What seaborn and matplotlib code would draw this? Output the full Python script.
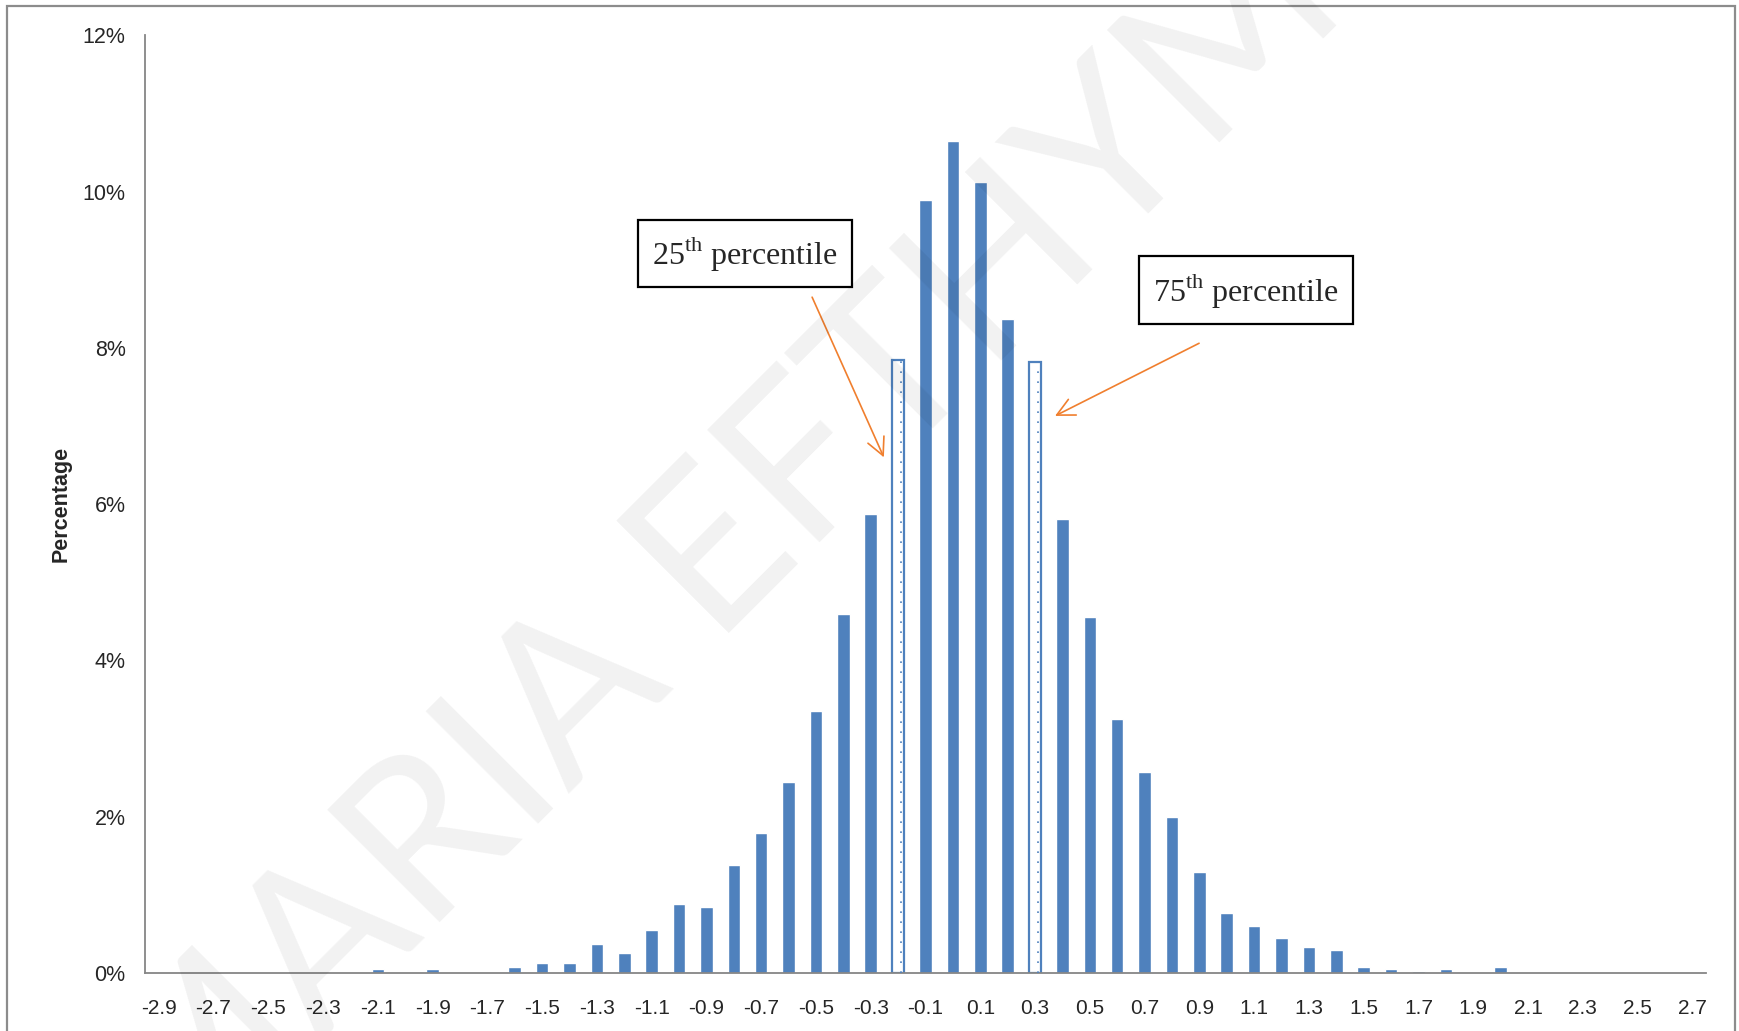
import matplotlib
matplotlib.use('Agg')
import matplotlib.pyplot as plt
import seaborn as sns
import pandas as pd
from matplotlib.patches import Rectangle

bins = ['-2.9', '-2.8', '-2.7', '-2.6', '-2.5', '-2.4', '-2.3', '-2.2', '-2.1', '-2.0',
        '-1.9', '-1.8', '-1.7', '-1.6', '-1.5', '-1.4', '-1.3', '-1.2', '-1.1', '-1.0',
        '-0.9', '-0.8', '-0.7', '-0.6', '-0.5', '-0.4', '-0.3', '-0.2', '-0.1', '0.0',
        '0.1', '0.2', '0.3', '0.4', '0.5', '0.6', '0.7', '0.8', '0.9', '1.0',
        '1.1', '1.2', '1.3', '1.4', '1.5', '1.6', '1.7', '1.8', '1.9', '2.0',
        '2.1', '2.2', '2.3', '2.4', '2.5', '2.6', '2.7']
pct = [0.01, 0.0, 0.0, 0.0, 0.0, 0.0, 0.0, 0.0, 0.05, 0.0,
       0.05, 0.01, 0.01, 0.08, 0.13, 0.13, 0.37, 0.26, 0.55, 0.88,
       0.84, 1.38, 1.79, 2.45, 3.35, 4.59, 5.88, 7.84, 9.9, 10.65,
       10.12, 8.37, 7.82, 5.81, 4.55, 3.25, 2.57, 2.0, 1.29, 0.77,
       0.6, 0.45, 0.33, 0.3, 0.08, 0.05, 0.03, 0.05, 0.0, 0.08,
       0.0, 0.01, 0.01, 0.0, 0.0, 0.0, 0.01]
quartile_bins = ['-0.2', '0.3']
tick_labels = bins[::2]

blue = '#4f81bd'
orange = '#f07f2e'

sns.set_style('white')
plt.rcParams['font.family'] = ['Liberation Sans', 'DejaVu Sans']
plt.rcParams['mathtext.fontset'] = 'custom'
plt.rcParams['mathtext.rm'] = 'Liberation Serif'

df = pd.DataFrame({'bin': bins, 'pct': pct})

fig = plt.figure(figsize=(17.39, 10.31), dpi=100)
ax = fig.add_axes([0.0834, 0.0563, 0.8976, 0.9093])

sns.barplot(data=df, x='bin', y='pct', order=bins, color=blue, width=0.46,
            saturation=1, ax=ax)

# quartile bins drawn hollow with a dotted inner line
for p, b in zip(ax.patches, bins):
    if b in quartile_bins:
        p.set_facecolor('white')
        p.set_edgecolor(blue)
        p.set_linewidth(1.6)
        xd = p.get_x() + p.get_width() * 0.72
        ax.plot([xd, xd], [0, p.get_height()], color=blue, lw=1.2,
                ls=(0, (1, 5)), zorder=3)

ax.set_xlim(-0.5, len(bins) - 0.5)
ax.set_ylim(0, 12)
ax.set_yticks(range(0, 13, 2))
ax.set_yticklabels([f'{v}%' for v in range(0, 13, 2)], fontsize=15.5)
ax.set_xticks(range(0, len(bins), 2))
ax.set_xticklabels(tick_labels, fontsize=15)
ax.set_xticks([i - 0.5 for i in range(len(bins) + 1)], minor=True)
ax.tick_params(axis='x', which='major', length=0, pad=19)
ax.tick_params(axis='x', which='minor', length=7, width=1.2, color='#868686', direction='out')
ax.tick_params(axis='y', length=7, width=1.2, color='#868686', direction='out', pad=7)

for s in ['top', 'right']:
    ax.spines[s].set_visible(False)
for s in ['left', 'bottom']:
    ax.spines[s].set_color('#868686')
    ax.spines[s].set_linewidth(1.3)

ax.set_xlabel('')
ax.set_ylabel('Percentage', fontsize=15.5, fontweight='bold')
ax.yaxis.set_label_coords(-0.047, 0.5)

# percentile call-outs
box = dict(boxstyle='square,pad=0.45', fc='white', ec='black', lw=1.6)
ax.text(21.4, 9.21, '25$^{\\mathrm{th}}$ percentile', fontsize=23, family='Liberation Serif',
        ha='center', va='center', bbox=box, zorder=6)
ax.text(39.7, 8.74, '75$^{\\mathrm{th}}$ percentile', fontsize=23, family='Liberation Serif',
        ha='center', va='center', bbox=box, zorder=6)
arrow = dict(arrowstyle='->,head_length=0.9,head_width=0.45', color=orange, lw=1.2,
             shrinkA=0, shrinkB=0, mutation_scale=14)
ax.annotate('', xy=(26.48, 6.6), xytext=(23.86, 8.65), arrowprops=arrow, zorder=6)
ax.annotate('', xy=(32.73, 7.13), xytext=(37.99, 8.06), arrowprops=arrow, zorder=6)

# watermark
fig.text(0.495, 0.6, 'MARIA EFTHYMIOU', rotation=45, fontsize=160, family='Lato',
         fontweight='normal', color='black', alpha=0.055, ha='center', va='center',
         zorder=10)

# outer frame
fig.patches.append(Rectangle((0.004, -0.05), 0.9937, 0.994 + 0.05, transform=fig.transFigure,
                             fill=False, ec='#8c8c8c', lw=1.6))

fig.savefig('out.png', dpi=100)
